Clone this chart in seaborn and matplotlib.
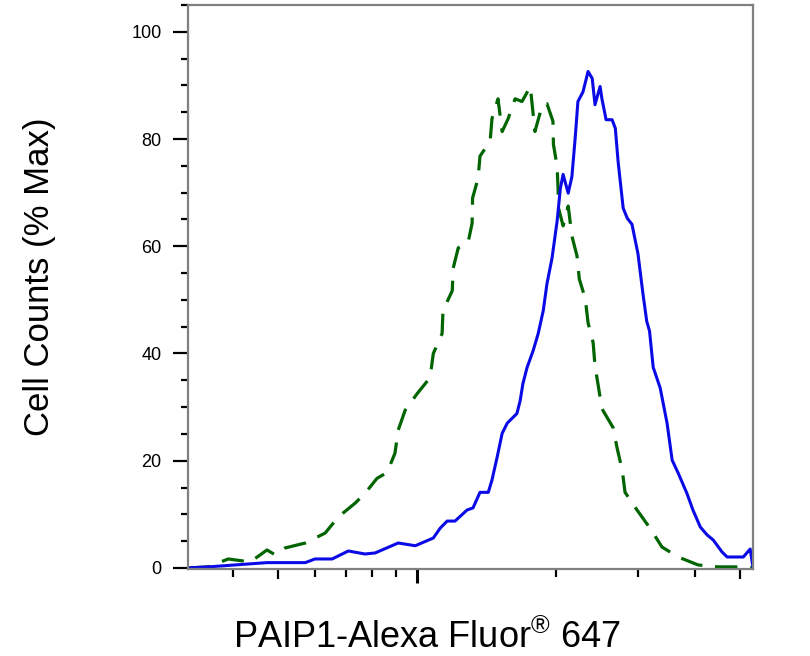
import numpy as np
import pandas as pd
import matplotlib
matplotlib.use("Agg")
import matplotlib.pyplot as plt
import matplotlib.ticker as mticker
import seaborn as sns

# ---- data (log10 fluorescence intensity, % of max) ----
stained_log10 = [3.504, 3.556, 3.606, 3.675, 3.758, 3.779, 3.816, 3.851, 3.887, 3.909,
                 3.959, 3.996, 4.035, 4.050, 4.065, 4.082, 4.108, 4.121, 4.136, 4.154,
                 4.162, 4.173, 4.184, 4.195, 4.216, 4.223, 4.229, 4.238, 4.251, 4.262,
                 4.273, 4.281, 4.292, 4.303, 4.310, 4.316, 4.327, 4.335, 4.342, 4.348,
                 4.359, 4.370, 4.379, 4.385, 4.396, 4.400, 4.409, 4.422, 4.429, 4.435,
                 4.446, 4.455, 4.465, 4.478, 4.489, 4.497, 4.503, 4.511, 4.526, 4.541,
                 4.552, 4.565, 4.584, 4.597, 4.613, 4.628, 4.641, 4.660, 4.671, 4.706,
                 4.721, 4.727]
stained_pct = [0.0, 0.24, 0.56, 0.99, 0.99, 1.67, 1.67, 3.16, 2.60, 2.79,
               4.65, 4.14, 5.58, 7.43, 8.74, 8.74, 10.8, 11.2, 14.1, 14.1,
               16.4, 20.6, 25.1, 27.0, 28.8, 31.2, 34.4, 37.4, 40.5, 43.7,
               48.0, 53.0, 57.8, 64.7, 70.8, 73.4, 69.9, 73.0, 80.1, 87.0,
               88.8, 92.6, 91.3, 86.4, 89.8, 87.5, 83.6, 83.6, 82.0, 75.8,
               67.1, 65.2, 64.1, 58.6, 51.0, 46.0, 44.2, 37.4, 33.6, 27.0,
               20.1, 17.7, 13.9, 10.8, 7.62, 6.13, 5.20, 2.97, 2.04, 2.04,
               3.53, 0.0]

control_log10 = [3.504, 3.548, 3.591, 3.639, 3.675, 3.693, 3.714, 3.758, 3.801, 3.829,
                 3.866, 3.887, 3.913, 3.935, 3.952, 3.959, 3.974, 4.000, 4.028, 4.035,
                 4.054, 4.056, 4.076, 4.078, 4.089, 4.110, 4.119, 4.120, 4.132, 4.136,
                 4.158, 4.162, 4.175, 4.184, 4.197, 4.212, 4.227, 4.245, 4.249, 4.255,
                 4.271, 4.281, 4.294, 4.295, 4.303, 4.305, 4.306, 4.316, 4.327, 4.335,
                 4.346, 4.351, 4.364, 4.370, 4.381, 4.385, 4.392, 4.400, 4.424, 4.433,
                 4.444, 4.450, 4.476, 4.504, 4.530, 4.565, 4.608, 4.652, 4.703, 4.727]
control_pct = [0.0, 0.19, 1.67, 1.12, 3.35, 2.42, 3.72, 4.65, 6.51, 9.48,
               12.1, 13.9, 16.7, 17.8, 21.4, 25.7, 29.4, 32.5, 35.5, 40.0,
               43.7, 48.0, 51.7, 55.9, 59.7, 60.6, 64.3, 69.0, 72.7, 76.8,
               79.6, 83.8, 87.5, 81.4, 83.8, 87.5, 87.0, 89.8, 86.4, 81.4,
               86.4, 86.6, 83.3, 79.0, 74.9, 70.8, 67.1, 63.8, 67.5, 61.9,
               58.2, 53.9, 50.2, 45.7, 42.0, 37.7, 34.0, 29.7, 26.2, 22.3,
               18.2, 14.1, 10.8, 7.43, 3.90, 2.04, 0.56, 0.19, 0.19, 0.0]

y_major = [0, 20, 40, 60, 80, 100]
x_label = "PAIP1-Alexa Fluor$^{®}$ 647"
y_label = "Cell Counts (% Max)"

stained = pd.DataFrame({"intensity": 10 ** np.array(stained_log10), "pct": stained_pct})
control = pd.DataFrame({"intensity": 10 ** np.array(control_log10), "pct": control_pct})

sns.set_theme(style="white")
plt.rcParams["font.family"] = ["Liberation Sans", "DejaVu Sans"]
plt.rcParams["mathtext.fontset"] = "custom"
plt.rcParams["mathtext.rm"] = "Liberation Sans"
plt.rcParams["text.color"] = "black"
plt.rcParams["axes.labelcolor"] = "black"
plt.rcParams["xtick.color"] = "black"
plt.rcParams["ytick.color"] = "black"

fig = plt.figure(figsize=(8.10, 6.56), dpi=100)
ax = fig.add_axes([188 / 810, 1 - 569 / 656, (753 - 188) / 810, (569 - 5) / 656])

sns.lineplot(data=control, x="intensity", y="pct", ax=ax, color="#006400",
             linewidth=2.3, sort=False, estimator=None)
ax.lines[-1].set_dashes((7, 4))
sns.lineplot(data=stained, x="intensity", y="pct", ax=ax, color="#0a0ae6",
             linewidth=2.2, sort=False, estimator=None)

ax.set_xscale("log")
ax.set_xlim(10 ** 3.504, 10 ** 4.727)
ax.set_ylim(-0.2, 105)

# y ticks
ax.set_yticks(y_major)
ax.yaxis.set_minor_locator(mticker.MultipleLocator(5))
ax.tick_params(axis="y", which="major", direction="out", length=11, width=1.6,
               color="black", labelcolor="black", labelsize=13, pad=8, left=True)
ax.tick_params(axis="y", which="minor", direction="out", length=5, width=1.6,
               color="black", left=True)

# x ticks (log decades, no labels)
ax.xaxis.set_major_locator(mticker.LogLocator(base=10, numticks=10))
ax.xaxis.set_minor_locator(mticker.LogLocator(base=10, subs=np.arange(2, 10), numticks=20))
ax.xaxis.set_major_formatter(mticker.NullFormatter())
ax.xaxis.set_minor_formatter(mticker.NullFormatter())
ax.tick_params(axis="x", which="major", direction="out", length=10, width=2.2,
               color="black", bottom=True)
ax.tick_params(axis="x", which="minor", direction="out", length=5.5, width=1.6,
               color="black", bottom=True)
fig.canvas.draw()
for loc, tk in zip(ax.xaxis.get_minorticklocs(), ax.xaxis.get_minor_ticks()):
    mant = loc / 10 ** np.floor(np.log10(loc) + 1e-9)
    if abs(mant - 5) < 0.01:
        tk.tick1line.set_markersize(7.5)

for s in ax.spines.values():
    s.set_color("#808080")
    s.set_linewidth(1.6)
    s.set_visible(True)

ax.set_xlabel("")
ax.set_ylabel("")
fig.text(427 / 810, 1 - 648 / 656, x_label, ha="center", va="baseline",
         fontsize=26, color="black")
fig.text(40 / 810, 1 - 277 / 656, y_label, ha="center", va="center",
         rotation=90, fontsize=25, color="black")

fig.savefig("out.png", dpi=100, facecolor="white")
